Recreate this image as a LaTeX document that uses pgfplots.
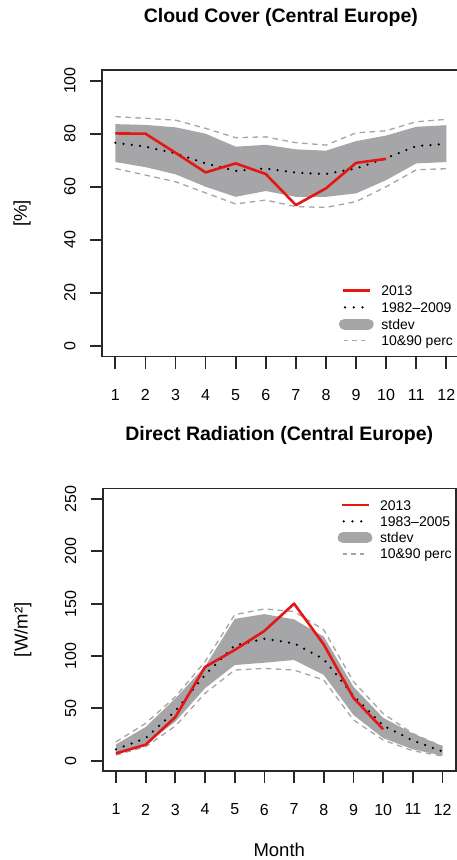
\documentclass[border=0pt]{standalone}
\usepackage{pgfplots}
\pgfplotsset{compat=1.18}
\usepackage{pgfplotstable}
\usepgfplotslibrary{fillbetween}
\usepackage{fontspec}
\setmainfont{Liberation Sans}
\definecolor{obsred}{RGB}{228,22,22}
\definecolor{bandgray}{RGB}{166,166,168}
\definecolor{pgray}{RGB}{165,165,168}
\definecolor{axcol}{RGB}{40,40,40}

\pgfplotstableread{
m obs mean sdhi sdlo p90 p10
1 80.1 76.6 83.6 69.3 86.4 66.9
2 80.0 75.1 83.3 67.4 85.8 64.4
3 72.8 72.6 82.4 64.7 85.1 61.9
4 65.4 68.8 80.0 60.0 82.0 57.7
5 68.8 66.0 75.1 56.2 78.5 53.5
6 64.8 66.9 75.8 58.4 78.8 55.0
7 53.1 65.3 74.1 56.2 76.6 52.5
8 59.4 64.8 73.6 56.2 75.7 52.2
9 69.0 66.9 77.2 57.5 80.3 54.4
10 70.5 70.8 79.3 62.5 81.1 60.0
11 nan 75.3 82.6 68.8 84.5 66.4
12 nan 76.2 83.2 69.3 85.4 66.8
}\cloud

\pgfplotstableread{
m obs mean sdhi sdlo p90 p10
1 7.0 10.9 15.5 6.0 18.0 5.4
2 15.3 21.5 32.2 16.0 35.7 13.4
3 41.7 47.5 59.5 37.3 61.1 33.1
4 89.5 82.0 90.0 69.2 94.6 64.4
5 105.8 110.0 135.5 91.4 139.5 86.6
6 124.0 116.5 140.0 93.6 145.0 88.2
7 150.0 112.1 135.0 96.2 142.5 86.6
8 111.0 97.0 118.5 81.9 125.0 77.1
9 60.0 62.0 70.7 43.7 75.5 38.9
10 30.0 33.5 41.0 21.6 45.0 19.8
11 nan 19.3 26.0 10.9 26.0 9.5
12 nan 8.8 14.0 4.8 13.5 4.5
}\rad

\pgfplotsset{
  panel/.style={
    scale only axis,
    anchor=south west,
    xmin=0.56, xmax=12.44,
    xtick={1,...,12},
    tick align=outside,
    xtick pos=left, ytick pos=left,
    major tick length=12pt,
    axis line style={line width=1.8pt, axcol},
    every tick/.style={line width=1.8pt, axcol},
    /pgf/number format/assume math mode=true,
    ticklabel style={font=\fontsize{16}{16}\selectfont, inner sep=0pt},
    xticklabel style={anchor=north},
    yticklabel style={rotate=90, anchor=south},
    xticklabel shift=20.5pt,
    yticklabel shift=14.3pt,
    title style={font=\bfseries\fontsize{19.5}{19.5}\selectfont, at={(axis description cs:0.5,1)}, anchor=center, yshift=47pt},
    label style={font=\fontsize{18.5}{18.5}\selectfont},
    legend cell align=left,
    legend style={draw=none, fill=none, inner sep=0pt, outer sep=0pt,
      anchor=north west, column sep=7.7pt,
      font=\fontsize{14}{14}\selectfont,
      nodes={inner sep=0pt, text height=11.5pt, text depth=1.5pt}},
  },
  obs/.style={obsred, line width=2.6pt, line join=round},
  meanl/.style={black, line width=2.5pt, line cap=round, dash pattern=on 0pt off 8.3pt},
  pct/.style={pgray, line width=1.3pt, dash pattern=on 5.5pt off 4.5pt},
}

\begin{document}
\begin{tikzpicture}

% ---------- Cloud cover ----------
\begin{axis}[panel,
  at={(102.07pt,503.4pt)}, width=357.5pt, height=286.6pt,
  ymin=-4, ymax=104, ytick={0,20,...,100},
  title={Cloud Cover (Central Europe)},
  ylabel={[\%]},
  ylabel style={at={(axis description cs:-0.2238,0.5)}, anchor=center},
  legend style={at={(axis description cs:0.6627,0.2526)}, row sep=3.7pt},
]
\addplot[name path=chi, draw=none, forget plot] table[x=m,y=sdhi]{\cloud};
\addplot[name path=clo, draw=none, forget plot] table[x=m,y=sdlo]{\cloud};
\addplot[fill=bandgray, draw=none, forget plot] fill between[of=chi and clo];
\addplot[pct, forget plot] table[x=m,y=p90]{\cloud};
\addplot[pct, forget plot] table[x=m,y=p10]{\cloud};
\addplot[meanl, forget plot] table[x=m,y=mean]{\cloud};
\addplot[obs, forget plot] table[x=m,y=obs]{\cloud};
\addlegendimage{legend image code/.code={\draw[obsred, line width=2.6pt] (0pt,0pt) -- (27pt,0pt);}}
\addlegendentry{2013}
\addlegendimage{legend image code/.code={\draw[black, line width=2.5pt, line cap=round, dash pattern=on 0pt off 8.8pt] (2pt,0pt) -- (20pt,0pt);}}
\addlegendentry{1982--2009}
\addlegendimage{legend image code/.code={\draw[bandgray, line width=11pt, line cap=round] (1.5pt,0pt) -- (25.2pt,0pt);}}
\addlegendentry{stdev}
\addlegendimage{legend image code/.code={\draw[pgray, line width=1.3pt, dash pattern=on 4.5pt off 4pt] (1pt,0pt) -- (23pt,0pt);}}
\addlegendentry{10\&90 perc}
\end{axis}

% ---------- Direct radiation ----------
\begin{axis}[panel,
  at={(102.9pt,88.8pt)}, width=352.7pt, height=282.7pt,
  ymin=-10, ymax=260, ytick={0,50,...,250},
  title={Direct Radiation (Central Europe)},
  ylabel={[W/m²]},
  ylabel style={at={(axis description cs:-0.2268,0.5)}, anchor=center},
  xlabel={Month},
  xlabel style={at={(axis description cs:0.5,0)}, anchor=center, yshift=-78.5pt},
  legend style={at={(axis description cs:0.6657,0.9646)}, row sep=3.3pt},
]
\addplot[name path=rhi, draw=none, forget plot] table[x=m,y=sdhi]{\rad};
\addplot[name path=rlo, draw=none, forget plot] table[x=m,y=sdlo]{\rad};
\addplot[fill=bandgray, draw=none, forget plot] fill between[of=rhi and rlo];
\addplot[pct, forget plot] table[x=m,y=p90]{\rad};
\addplot[pct, forget plot] table[x=m,y=p10]{\rad};
\addplot[meanl, forget plot] table[x=m,y=mean]{\rad};
\addplot[obs, forget plot] table[x=m,y=obs]{\rad};
\addlegendimage{legend image code/.code={\draw[obsred, line width=2.6pt] (0pt,0pt) -- (27pt,0pt);}}
\addlegendentry{2013}
\addlegendimage{legend image code/.code={\draw[black, line width=2.5pt, line cap=round, dash pattern=on 0pt off 8.8pt] (2pt,0pt) -- (20pt,0pt);}}
\addlegendentry{1983--2005}
\addlegendimage{legend image code/.code={\draw[bandgray, line width=11pt, line cap=round] (1.5pt,0pt) -- (25.2pt,0pt);}}
\addlegendentry{stdev}
\addlegendimage{legend image code/.code={\draw[pgray, line width=1.3pt, dash pattern=on 4.5pt off 4pt] (1pt,0pt) -- (23pt,0pt);}}
\addlegendentry{10\&90 perc}
\end{axis}
\pgfresetboundingbox
\path[use as bounding box] (0pt,0pt) rectangle (457pt,860pt);
\end{tikzpicture}
\end{document}
